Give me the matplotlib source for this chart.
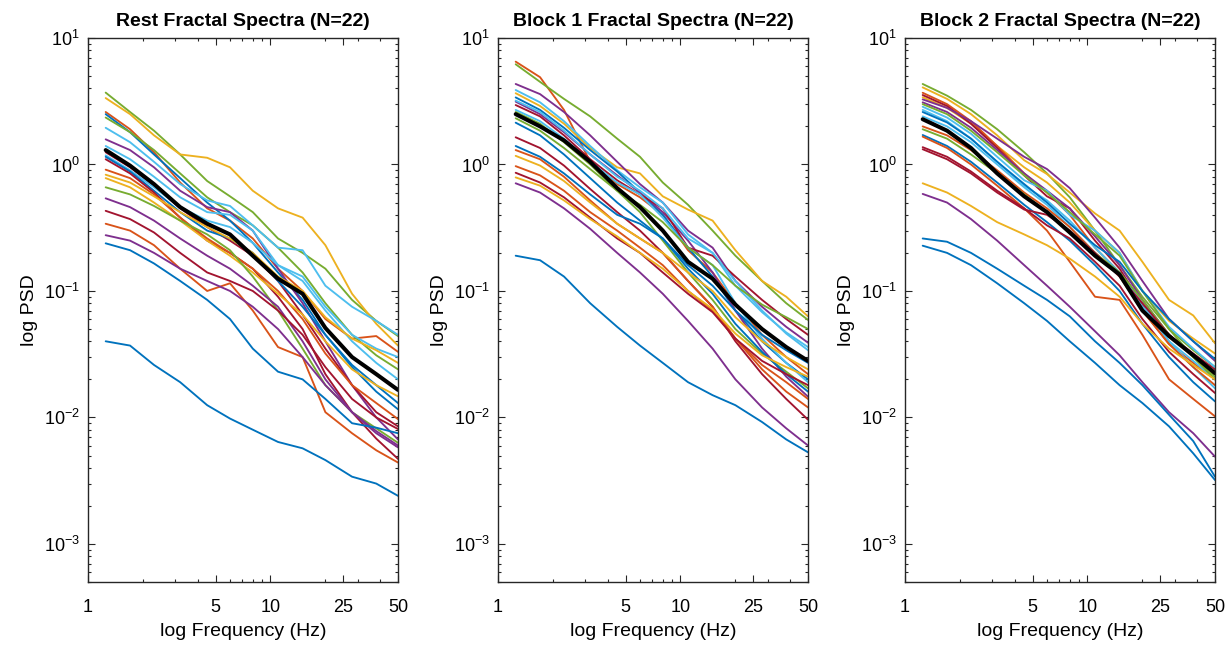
import matplotlib
matplotlib.use("Agg")
import matplotlib.pyplot as plt
from matplotlib.ticker import FixedLocator, FixedFormatter, LogLocator, NullFormatter, LogFormatterMathtext

# ---------------- data ----------------
FREQ = [1.25, 1.7, 2.3, 3.2, 4.5, 6, 8, 11, 15, 20, 28, 38, 50]

XTICKS = [1, 5, 10, 25, 50]
XTICK_LABELS = ["1", "5", "10", "25", "50"]

TITLES = ["Rest Fractal Spectra (N=22)", "Block 1 Fractal Spectra (N=22)", "Block 2 Fractal Spectra (N=22)"]

PALETTE = {
    "blue": (0.000, 0.447, 0.741),
    "orange": (0.850, 0.325, 0.098),
    "yellow": (0.929, 0.694, 0.125),
    "purple": (0.494, 0.184, 0.556),
    "green": (0.466, 0.674, 0.188),
    "lightblue": (0.301, 0.745, 0.933),
    "darkred": (0.635, 0.078, 0.184),
}

REST_COLORS = ["green", "yellow", "orange", "blue", "green", "lightblue", "purple", "lightblue",
               "darkred", "lightblue", "blue", "darkred", "orange", "yellow", "yellow", "green",
               "purple", "darkred", "orange", "purple", "blue", "blue"]
REST_PSD = [
    [3.7, 2.6, 1.85, 1.2, 0.74, 0.56, 0.42, 0.26, 0.2, 0.15, 0.085, 0.058, 0.044],
    [3.35, 2.5, 1.7, 1.2, 1.13, 0.95, 0.62, 0.45, 0.38, 0.23, 0.095, 0.055, 0.037],
    [2.6, 1.9, 1.25, 0.72, 0.45, 0.36, 0.26, 0.15, 0.1, 0.06, 0.042, 0.044, 0.033],
    [2.5, 1.8, 1.2, 0.78, 0.5, 0.36, 0.24, 0.14, 0.085, 0.045, 0.025, 0.016, 0.0116],
    [2.35, 1.8, 1.3, 0.85, 0.55, 0.42, 0.33, 0.22, 0.14, 0.08, 0.045, 0.031, 0.024],
    [1.95, 1.5, 1.05, 0.7, 0.52, 0.47, 0.33, 0.22, 0.21, 0.11, 0.075, 0.058, 0.045],
    [1.58, 1.3, 0.95, 0.62, 0.46, 0.42, 0.3, 0.15, 0.08, 0.04, 0.018, 0.01, 0.0067],
    [1.4, 1.1, 0.8, 0.55, 0.42, 0.40, 0.30, 0.16, 0.13, 0.075, 0.045, 0.035, 0.03],
    [1.25, 0.95, 0.68, 0.45, 0.32, 0.25, 0.19, 0.12, 0.065, 0.035, 0.018, 0.011, 0.0085],
    [1.18, 0.9, 0.66, 0.46, 0.36, 0.32, 0.24, 0.16, 0.12, 0.07, 0.04, 0.027, 0.02],
    [1.15, 0.88, 0.62, 0.42, 0.30, 0.26, 0.2, 0.12, 0.075, 0.045, 0.026, 0.018, 0.013],
    [1.1, 0.85, 0.6, 0.38, 0.25, 0.2, 0.15, 0.09, 0.05, 0.022, 0.011, 0.0068, 0.0047],
    [0.91, 0.78, 0.58, 0.38, 0.26, 0.2, 0.15, 0.1, 0.06, 0.032, 0.018, 0.013, 0.0097],
    [0.83, 0.72, 0.56, 0.42, 0.32, 0.26, 0.2, 0.13, 0.1, 0.062, 0.042, 0.034, 0.027],
    [0.78, 0.66, 0.5, 0.36, 0.25, 0.19, 0.14, 0.095, 0.065, 0.04, 0.024, 0.018, 0.0147],
    [0.66, 0.58, 0.47, 0.36, 0.28, 0.21, 0.13, 0.07, 0.035, 0.018, 0.011, 0.0082, 0.0063],
    [0.54, 0.46, 0.36, 0.26, 0.19, 0.15, 0.11, 0.075, 0.04, 0.02, 0.011, 0.0075, 0.0058],
    [0.43, 0.37, 0.29, 0.2, 0.14, 0.12, 0.1, 0.07, 0.045, 0.025, 0.014, 0.01, 0.0081],
    [0.34, 0.30, 0.23, 0.15, 0.10, 0.115, 0.07, 0.036, 0.030, 0.011, 0.0075, 0.0055, 0.0044],
    [0.276, 0.25, 0.2, 0.15, 0.12, 0.1, 0.075, 0.05, 0.03, 0.018, 0.011, 0.0078, 0.006],
    [0.238, 0.21, 0.165, 0.12, 0.085, 0.06, 0.035, 0.023, 0.02, 0.014, 0.009, 0.0083, 0.0075],
    [0.040, 0.037, 0.026, 0.019, 0.0125, 0.0098, 0.0080, 0.0064, 0.0057, 0.0046, 0.0034, 0.0030, 0.0024],
]
REST_MEAN = [1.3, 0.98, 0.7, 0.46, 0.34, 0.28, 0.19, 0.125, 0.095, 0.051, 0.03, 0.022, 0.0165]

BLOCK1_COLORS = ["orange", "green", "yellow", "purple", "lightblue", "blue", "purple", "darkred",
                 "lightblue", "lightblue", "green", "green", "blue", "darkred", "blue", "orange",
                 "yellow", "orange", "darkred", "yellow", "purple", "blue"]
BLOCK1_PSD = [
    [6.5, 4.9, 2.7, 1.05, 0.7, 0.55, 0.4, 0.21, 0.14, 0.08, 0.045, 0.03, 0.022],
    [6.2, 4.5, 3.3, 2.4, 1.6, 1.15, 0.72, 0.48, 0.3, 0.19, 0.12, 0.08, 0.059],
    [3.66, 2.9, 2.1, 1.35, 0.95, 0.85, 0.56, 0.44, 0.36, 0.21, 0.12, 0.09, 0.063],
    [4.33, 3.6, 2.6, 1.7, 1.05, 0.7, 0.5, 0.3, 0.22, 0.12, 0.075, 0.052, 0.039],
    [3.88, 3.1, 2.2, 1.4, 0.9, 0.66, 0.5, 0.28, 0.2, 0.11, 0.068, 0.047, 0.036],
    [3.39, 2.7, 1.95, 1.3, 0.88, 0.6, 0.4, 0.22, 0.13, 0.07, 0.04, 0.027, 0.02],
    [3.14, 2.5, 1.8, 1.2, 0.82, 0.6, 0.42, 0.25, 0.14, 0.07, 0.035, 0.021, 0.0146],
    [2.95, 2.4, 1.7, 1.1, 0.75, 0.58, 0.45, 0.22, 0.19, 0.13, 0.085, 0.06, 0.045],
    [3.2, 2.6, 1.85, 1.2, 0.8, 0.62, 0.45, 0.26, 0.2, 0.12, 0.07, 0.046, 0.034],
    [2.7, 2.2, 1.6, 1.05, 0.72, 0.58, 0.38, 0.22, 0.16, 0.08, 0.042, 0.027, 0.019],
    [2.6, 2.1, 1.5, 1.0, 0.62, 0.42, 0.25, 0.14, 0.085, 0.05, 0.032, 0.023, 0.017],
    [2.32, 1.85, 1.35, 0.92, 0.62, 0.48, 0.35, 0.22, 0.16, 0.11, 0.078, 0.062, 0.05],
    [2.14, 1.7, 1.2, 0.78, 0.5, 0.36, 0.26, 0.15, 0.095, 0.055, 0.033, 0.022, 0.016],
    [1.64, 1.35, 0.98, 0.64, 0.42, 0.3, 0.2, 0.12, 0.075, 0.04, 0.022, 0.014, 0.0096],
    [1.4, 1.15, 0.85, 0.58, 0.4, 0.34, 0.26, 0.16, 0.11, 0.07, 0.045, 0.034, 0.027],
    [1.3, 1.1, 0.8, 0.52, 0.34, 0.26, 0.2, 0.12, 0.075, 0.042, 0.024, 0.016, 0.012],
    [1.17, 0.98, 0.74, 0.5, 0.34, 0.26, 0.2, 0.14, 0.1, 0.062, 0.04, 0.03, 0.024],
    [0.97, 0.82, 0.62, 0.42, 0.3, 0.22, 0.16, 0.1, 0.07, 0.042, 0.026, 0.019, 0.014],
    [0.86, 0.72, 0.55, 0.38, 0.26, 0.2, 0.14, 0.095, 0.068, 0.042, 0.028, 0.022, 0.018],
    [0.79, 0.68, 0.52, 0.37, 0.27, 0.2, 0.15, 0.1, 0.072, 0.046, 0.031, 0.025, 0.021],
    [0.71, 0.6, 0.45, 0.31, 0.2, 0.14, 0.095, 0.058, 0.035, 0.02, 0.012, 0.0082, 0.006],
    [0.19, 0.175, 0.13, 0.08, 0.052, 0.037, 0.027, 0.019, 0.015, 0.0125, 0.0092, 0.0067, 0.0053],
]
BLOCK1_MEAN = [2.5, 2.0, 1.55, 1.05, 0.65, 0.46, 0.3, 0.17, 0.125, 0.078, 0.05, 0.036, 0.028]

BLOCK2_COLORS = ["green", "yellow", "yellow", "orange", "darkred", "purple", "purple", "lightblue",
                 "lightblue", "green", "blue", "lightblue", "orange", "green", "blue", "orange",
                 "darkred", "darkred", "yellow", "purple", "blue", "blue"]
BLOCK2_PSD = [
    [4.33, 3.5, 2.7, 1.9, 1.25, 0.85, 0.55, 0.3, 0.16, 0.09, 0.05, 0.034, 0.025],
    [4.07, 3.3, 2.5, 1.7, 1.08, 0.84, 0.6, 0.41, 0.3, 0.17, 0.085, 0.064, 0.0386],
    [3.4, 2.8, 2.1, 1.4, 0.95, 0.72, 0.5, 0.3, 0.2, 0.1, 0.058, 0.042, 0.032],
    [3.69, 3.0, 2.2, 1.4, 0.85, 0.6, 0.4, 0.22, 0.14, 0.07, 0.038, 0.027, 0.02],
    [3.54, 2.9, 2.1, 1.35, 0.82, 0.56, 0.45, 0.25, 0.15, 0.078, 0.045, 0.032, 0.024],
    [3.27, 2.8, 2.2, 1.6, 1.15, 0.92, 0.65, 0.38, 0.22, 0.12, 0.06, 0.04, 0.028],
    [3.1, 2.6, 1.95, 1.3, 0.85, 0.62, 0.45, 0.27, 0.16, 0.085, 0.045, 0.03, 0.022],
    [2.86, 2.35, 1.75, 1.15, 0.75, 0.62, 0.4, 0.3, 0.2, 0.1, 0.052, 0.035, 0.025],
    [2.7, 2.2, 1.6, 1.05, 0.68, 0.52, 0.36, 0.22, 0.14, 0.08, 0.04, 0.025, 0.017],
    [3.0, 2.5, 1.85, 1.25, 0.82, 0.6, 0.42, 0.28, 0.19, 0.1, 0.05, 0.03, 0.021],
    [2.6, 2.15, 1.6, 1.05, 0.7, 0.5, 0.34, 0.23, 0.17, 0.1, 0.06, 0.04, 0.029],
    [2.4, 2.0, 1.5, 1.0, 0.66, 0.48, 0.32, 0.2, 0.13, 0.075, 0.04, 0.028, 0.02],
    [2.0, 1.7, 1.3, 0.9, 0.6, 0.45, 0.32, 0.2, 0.13, 0.07, 0.038, 0.025, 0.018],
    [1.9, 1.6, 1.2, 0.85, 0.58, 0.42, 0.3, 0.2, 0.14, 0.085, 0.045, 0.03, 0.02],
    [1.71, 1.4, 1.05, 0.72, 0.48, 0.35, 0.25, 0.16, 0.1, 0.055, 0.03, 0.019, 0.0134],
    [1.66, 1.35, 1.0, 0.68, 0.45, 0.3, 0.17, 0.09, 0.085, 0.045, 0.02, 0.014, 0.0102],
    [1.37, 1.15, 0.88, 0.62, 0.45, 0.33, 0.26, 0.17, 0.11, 0.06, 0.033, 0.022, 0.0156],
    [1.32, 1.1, 0.85, 0.6, 0.44, 0.4, 0.3, 0.2, 0.13, 0.08, 0.045, 0.031, 0.022],
    [0.71, 0.6, 0.47, 0.35, 0.28, 0.23, 0.18, 0.13, 0.09, 0.055, 0.035, 0.026, 0.02],
    [0.585, 0.5, 0.37, 0.25, 0.16, 0.11, 0.075, 0.048, 0.031, 0.019, 0.011, 0.0075, 0.0049],
    [0.26, 0.245, 0.2, 0.15, 0.11, 0.085, 0.063, 0.04, 0.027, 0.018, 0.0105, 0.0065, 0.0034],
    [0.228, 0.2, 0.16, 0.115, 0.08, 0.058, 0.04, 0.027, 0.018, 0.013, 0.0085, 0.0052, 0.0032],
]
BLOCK2_MEAN = [2.28, 1.85, 1.35, 0.85, 0.56, 0.42, 0.29, 0.19, 0.135, 0.07, 0.044, 0.031, 0.0224]

# ---------------- style ----------------
plt.rcParams["font.family"] = ["Liberation Sans", "DejaVu Sans"]
plt.rcParams["mathtext.fontset"] = "custom"
plt.rcParams["mathtext.rm"] = "Liberation Sans"
plt.rcParams["mathtext.it"] = "Liberation Sans:italic"
plt.rcParams["mathtext.bf"] = "Liberation Sans:bold"
plt.rcParams["mathtext.default"] = "regular"

AX_COLOR = "#262626"

fig = plt.figure(figsize=(12.3, 6.5), dpi=100)
fig.patch.set_facecolor("white")

W, H = 1230.0, 650.0
lefts = [88, 498, 905]
width_px = 310
top_px, bottom_px = 38, 582

panels = [
    (REST_PSD, REST_COLORS, REST_MEAN),
    (BLOCK1_PSD, BLOCK1_COLORS, BLOCK1_MEAN),
    (BLOCK2_PSD, BLOCK2_COLORS, BLOCK2_MEAN),
]

for i, (psd, cols, mean) in enumerate(panels):
    ax = fig.add_axes([lefts[i] / W, (H - bottom_px) / H, width_px / W, (bottom_px - top_px) / H])
    for vals, c in zip(psd, cols):
        ax.plot(FREQ, vals, color=PALETTE[c], lw=1.35, solid_capstyle="round", solid_joinstyle="round")
    ax.plot(FREQ, mean, color="black", lw=2.9, solid_capstyle="round", solid_joinstyle="round")

    ax.set_xscale("log")
    ax.set_yscale("log")
    ax.set_xlim(1, 50)
    ax.set_ylim(5e-4, 10)

    ax.xaxis.set_major_locator(FixedLocator(XTICKS))
    ax.xaxis.set_major_formatter(FixedFormatter(XTICK_LABELS))
    ax.xaxis.set_minor_locator(LogLocator(base=10, subs=[2, 3, 4, 6, 7, 8, 9], numticks=20))
    ax.xaxis.set_minor_formatter(NullFormatter())
    ax.yaxis.set_major_locator(LogLocator(base=10, numticks=20))
    ax.yaxis.set_major_formatter(LogFormatterMathtext())
    ax.yaxis.set_minor_locator(LogLocator(base=10, subs=range(2, 10), numticks=20))
    ax.yaxis.set_minor_formatter(NullFormatter())

    ax.tick_params(which="both", direction="in", top=True, right=True, color=AX_COLOR,
                   labelcolor="black", width=0.8)
    ax.tick_params(which="major", length=5, labelsize=13)
    ax.tick_params(which="minor", length=2.5)
    ax.tick_params(axis="x", which="major", pad=12)
    ax.tick_params(axis="y", which="major", pad=6)
    for sp in ax.spines.values():
        sp.set_color(AX_COLOR)
        sp.set_linewidth(1.0)

    ax.set_title(TITLES[i], fontsize=14, fontweight="bold", pad=9)
    ax.set_xlabel("log Frequency (Hz)", fontsize=14, labelpad=5)
    ax.set_ylabel("log PSD", fontsize=14, labelpad=4)

fig.savefig("out.png", dpi=100, facecolor="white")
